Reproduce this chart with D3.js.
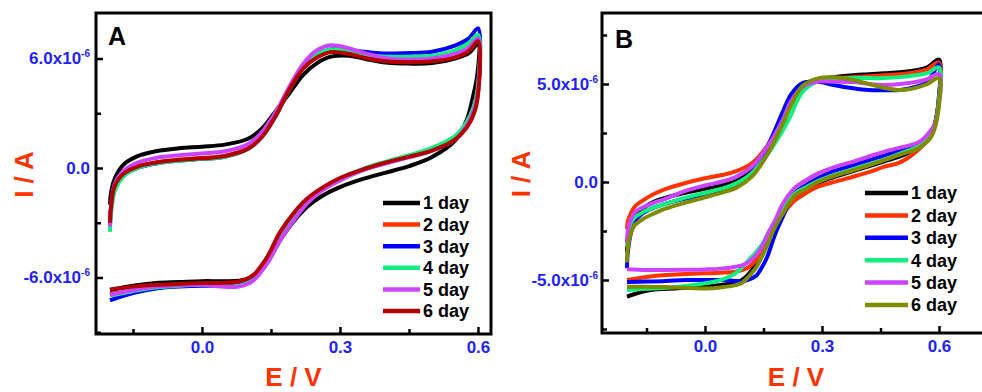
<!DOCTYPE html>
<html>
<head>
<meta charset="utf-8">
<script src="https://cdn.jsdelivr.net/npm/d3@7"></script>
<style>
  body { margin: 0; background: #fff; }
  svg { display: block; font-family: "Liberation Sans", Arial, sans-serif; font-weight: bold; }
</style>
</head>
<body>
<svg id="chart" width="982" height="392"></svg>
<script>
// currents are in units of 1e-6 A, potentials in V
const dayLabels = ["1 day", "2 day", "3 day", "4 day", "5 day", "6 day"];
const colorsA = ["#000000", "#ff3300", "#0000ff", "#11ee80", "#cc44ff", "#b30000"];
const colorsB = ["#000000", "#ff3300", "#0000ff", "#11ee80", "#cc44ff", "#7f8c00"];

const xMajor = [0, 0.3, 0.6];
const xMinor = [-0.15, 0.15, 0.45];
const yMajorA = [-6, 0, 6];
const yMinorA = [-9, -3, 3];
const yMajorB = [-5, 0, 5];
const yMinorB = [-7.5, -2.5, 2.5, 7.5];

// panel A: forward (upper) and reverse (lower) sweeps
const potFwdA = [-0.2, -0.198, -0.19, -0.17, -0.14, -0.1, -0.05, 0, 0.05, 0.1, 0.13, 0.16, 0.19, 0.22, 0.25, 0.28, 0.32, 0.36, 0.4, 0.45, 0.5, 0.55, 0.58, 0.6];
const potRevA = [0.599, 0.59, 0.575, 0.55, 0.5, 0.45, 0.4, 0.35, 0.3, 0.26, 0.23, 0.2, 0.17, 0.14, 0.11, 0.08, 0.04, 0, -0.05, -0.1, -0.15, -0.2];

const a1Fwd = [-2.0, -1.4, -0.6, 0.2, 0.65, 0.92, 1.08, 1.17, 1.28, 1.6, 2.15, 3.1, 4.1, 5.1, 5.75, 6.1, 6.15, 5.95, 5.78, 5.72, 5.75, 6.0, 6.3, 6.8];
const a1Rev = [5.2, 4.0, 2.6, 1.5, 0.6, 0.1, -0.25, -0.6, -1.05, -1.55, -2.1, -2.9, -3.95, -5.25, -6.0, -6.18, -6.2, -6.2, -6.25, -6.3, -6.45, -6.7];
const a2Fwd = [-3.1, -2.3, -1.1, -0.35, 0.05, 0.3, 0.45, 0.55, 0.68, 1.1, 1.75, 2.9, 4.3, 5.5, 6.15, 6.45, 6.35, 6.08, 5.92, 5.88, 5.92, 6.12, 6.5, 7.05];
const a2Rev = [3.9, 3.0, 2.3, 1.6, 1.0, 0.62, 0.3, -0.1, -0.6, -1.15, -1.75, -2.6, -3.6, -5.0, -5.95, -6.3, -6.38, -6.4, -6.45, -6.55, -6.7, -6.9];
const a3Fwd = [-3.2, -2.3, -1.1, -0.4, 0.0, 0.25, 0.4, 0.5, 0.62, 1.05, 1.7, 2.85, 4.3, 5.5, 6.2, 6.5, 6.45, 6.35, 6.28, 6.3, 6.37, 6.7, 7.1, 7.65];
const a3Rev = [4.2, 3.2, 2.4, 1.65, 1.05, 0.65, 0.3, -0.1, -0.62, -1.2, -1.8, -2.65, -3.65, -5.05, -6.05, -6.4, -6.45, -6.45, -6.5, -6.6, -6.85, -7.25];
const a4Fwd = [-3.5, -2.6, -1.3, -0.45, 0.0, 0.25, 0.4, 0.5, 0.62, 1.05, 1.7, 2.85, 4.3, 5.55, 6.25, 6.5, 6.4, 6.2, 6.1, 6.1, 6.15, 6.45, 6.85, 7.3];
const a4Rev = [4.3, 3.3, 2.5, 1.75, 1.1, 0.7, 0.35, -0.05, -0.6, -1.2, -1.85, -2.75, -3.85, -5.25, -6.15, -6.45, -6.45, -6.4, -6.45, -6.55, -6.75, -7.0];
const a5Fwd = [-3.2, -2.2, -0.9, -0.15, 0.3, 0.55, 0.7, 0.8, 0.92, 1.3, 1.95, 3.05, 4.45, 5.7, 6.45, 6.72, 6.55, 6.25, 6.02, 5.95, 6.0, 6.25, 6.6, 7.1];
const a5Rev = [4.0, 3.1, 2.3, 1.55, 0.95, 0.58, 0.25, -0.12, -0.68, -1.25, -1.9, -2.85, -3.95, -5.3, -6.2, -6.5, -6.5, -6.4, -6.42, -6.5, -6.7, -6.95];
const a6Fwd = [-3.0, -2.2, -1.0, -0.3, 0.08, 0.3, 0.45, 0.53, 0.65, 1.05, 1.7, 2.85, 4.3, 5.45, 6.05, 6.35, 6.25, 6.0, 5.85, 5.8, 5.85, 6.05, 6.4, 6.95];
const a6Rev = [3.8, 2.9, 2.2, 1.55, 0.95, 0.62, 0.3, -0.08, -0.55, -1.1, -1.65, -2.45, -3.5, -4.95, -5.9, -6.22, -6.3, -6.3, -6.35, -6.4, -6.5, -6.65];

// panel B
const potFwdB = [-0.2, -0.198, -0.19, -0.18, -0.16, -0.13, -0.1, -0.05, 0, 0.05, 0.08, 0.12, 0.16, 0.2, 0.22, 0.25, 0.29, 0.33, 0.38, 0.42, 0.46, 0.5, 0.54, 0.57, 0.6];
const potRevB = [0.599, 0.59, 0.58, 0.55, 0.5, 0.46, 0.42, 0.38, 0.33, 0.29, 0.26, 0.23, 0.2, 0.18, 0.16, 0.146, 0.13, 0.112, 0.095, 0.078, 0.04, 0, -0.05, -0.1, -0.15, -0.2];

const b1Fwd = [-3.6, -3.0, -2.2, -1.75, -1.35, -1.0, -0.8, -0.55, -0.35, -0.12, 0.05, 0.6, 1.65, 3.1, 4.0, 4.85, 5.2, 5.35, 5.45, 5.5, 5.55, 5.6, 5.7, 5.85, 6.25];
const b1Rev = [4.2, 3.0, 2.45, 1.8, 1.3, 1.05, 0.8, 0.55, 0.25, -0.05, -0.4, -0.85, -1.6, -2.3, -3.1, -3.6, -4.2, -4.7, -5.0, -5.15, -5.25, -5.34, -5.4, -5.45, -5.55, -5.85];
const b2Fwd = [-2.4, -2.0, -1.6, -1.25, -0.95, -0.6, -0.35, -0.05, 0.19, 0.38, 0.55, 0.95, 1.85, 3.3, 4.15, 4.95, 5.25, 5.3, 5.35, 5.4, 5.45, 5.5, 5.6, 5.75, 6.1];
const b2Rev = [4.0, 2.95, 2.4, 1.7, 1.0, 0.78, 0.5, 0.27, 0.0, -0.24, -0.55, -0.95, -1.65, -2.3, -3.0, -3.55, -4.0, -4.35, -4.5, -4.58, -4.63, -4.66, -4.7, -4.75, -4.85, -5.0];
const b3Fwd = [-4.4, -3.6, -2.6, -2.0, -1.6, -1.3, -1.1, -0.85, -0.65, -0.35, -0.1, 0.45, 1.8, 3.6, 4.45, 5.05, 5.12, 4.95, 4.78, 4.69, 4.68, 4.69, 4.85, 5.1, 6.0];
const b3Rev = [4.0, 3.0, 2.5, 1.95, 1.6, 1.35, 1.1, 0.85, 0.55, 0.2, -0.15, -0.55, -1.75, -2.65, -3.8, -4.35, -4.8, -4.98, -5.05, -5.05, -5.0, -5.0, -5.0, -5.05, -5.08, -5.1];
const b4Fwd = [-3.3, -2.8, -2.1, -1.8, -1.55, -1.3, -1.1, -0.8, -0.55, -0.3, -0.07, 0.45, 1.4, 2.65, 3.4, 4.6, 5.15, 5.25, 5.3, 5.3, 5.3, 5.35, 5.45, 5.55, 5.85];
const b4Rev = [4.0, 2.9, 2.4, 1.85, 1.45, 1.15, 0.9, 0.65, 0.35, 0.05, -0.25, -0.6, -1.3, -2.0, -2.7, -3.2, -3.6, -3.98, -4.35, -4.66, -5.0, -5.17, -5.3, -5.4, -5.45, -5.51];
const b5Fwd = [-3.1, -2.5, -1.9, -1.55, -1.3, -1.05, -0.85, -0.45, -0.18, 0.05, 0.27, 0.78, 1.8, 3.2, 4.1, 4.85, 5.12, 5.12, 5.1, 5.0, 4.95, 5.0, 5.1, 5.25, 5.5];
const b5Rev = [3.8, 3.0, 2.65, 2.05, 1.75, 1.55, 1.3, 1.04, 0.75, 0.44, 0.1, -0.3, -1.1, -1.94, -2.7, -3.3, -3.75, -4.07, -4.25, -4.32, -4.42, -4.46, -4.48, -4.49, -4.49, -4.45];
const b6Fwd = [-4.1, -3.4, -2.6, -2.2, -1.9, -1.6, -1.35, -1.05, -0.78, -0.5, -0.3, 0.27, 1.4, 3.0, 3.9, 4.9, 5.29, 5.34, 5.2, 5.0, 4.8, 4.69, 4.8, 5.0, 5.3];
const b6Rev = [3.8, 2.8, 2.3, 1.75, 1.4, 1.12, 0.85, 0.6, 0.3, 0.0, -0.35, -0.7, -1.6, -2.28, -3.2, -3.81, -4.4, -4.83, -5.15, -5.26, -5.38, -5.43, -5.4, -5.36, -5.35, -5.34];

const tickBlue = "#1f1fff";
const titleRed = "#ff3300";

function buildSeries(colors, potFwd, potRev, fwd, rev) {
  return dayLabels.map((label, i) => ({
    label,
    color: colors[i],
    points: potFwd.map((e, j) => [e, fwd[i][j]]).concat(potRev.map((e, j) => [e, rev[i][j]])),
  }));
}

function drawPanel(p) {
  const svg = d3.select("#chart");
  const x = d3.scaleLinear().domain(p.xDomain).range([p.left, p.right]);
  const y = d3.scaleLinear().domain(p.yDomain).range([p.bottom, p.top]);
  const g = svg.append("g");

  const line = d3
    .line()
    .x((d) => x(d[0]))
    .y((d) => y(d[1]))
    .curve(d3.curveCatmullRom.alpha(0.5));

  g.append("g")
    .selectAll("path")
    .data(p.series)
    .join("path")
    .attr("fill", "none")
    .attr("stroke", (d) => d.color)
    .attr("stroke-width", 4)
    .attr("stroke-linejoin", "round")
    .attr("d", (d) => line(d.points));

  // x axis, ticks pointing inward
  const gx = g.append("g").attr("transform", `translate(0,${p.bottom})`);
  gx.append("g").call(d3.axisBottom(x).tickValues(xMinor).tickSize(-5).tickFormat(() => ""));
  gx.append("g").call(
    d3.axisBottom(x).tickValues(xMajor).tickSize(-7).tickPadding(7).tickFormat((d) => d.toFixed(1))
  );

  // y axis with x10^-6 labels
  const gy = g.append("g").attr("transform", `translate(${p.left},0)`);
  gy.append("g").call(d3.axisLeft(y).tickValues(p.yMinor).tickSize(-5).tickFormat(() => ""));
  gy.append("g")
    .call(d3.axisLeft(y).tickValues(p.yMajor).tickSize(-7).tickPadding(p.yPad))
    .selectAll(".tick text")
    .each(function (d) {
      const t = d3.select(this).text(null);
      if (d === 0) {
        t.text("0.0");
        return;
      }
      t.append("tspan").text(d.toFixed(1) + "x10");
      t.append("tspan").attr("dy", -7).attr("font-size", 10).text("-6");
    });

  g.selectAll(".domain").remove();
  g.selectAll(".tick line").attr("stroke", "#000").attr("stroke-width", 2.5);
  g.selectAll(".tick text")
    .attr("fill", tickBlue)
    .attr("font-size", 17)
    .attr("font-family", null);
  g.selectAll("g").attr("font-family", null).attr("font-size", null);

  g.append("rect")
    .attr("x", p.left)
    .attr("y", p.top)
    .attr("width", p.right - p.left)
    .attr("height", p.bottom - p.top)
    .attr("fill", "none")
    .attr("stroke", "#000")
    .attr("stroke-width", 3);

  g.append("text")
    .attr("x", p.letterX)
    .attr("y", p.letterY)
    .attr("font-size", 25)
    .text(p.letter);

  g.append("text")
    .attr("transform", `translate(${p.yTitleX},${(p.top + p.bottom) / 2 + 1}) rotate(-90)`)
    .attr("text-anchor", "middle")
    .attr("fill", titleRed)
    .attr("font-size", 26)
    .text("I / A");

  g.append("text")
    .attr("x", (p.left + p.right) / 2)
    .attr("y", 386)
    .attr("text-anchor", "middle")
    .attr("fill", titleRed)
    .attr("font-size", 26)
    .text("E / V");

  const legend = g
    .append("g")
    .selectAll("g")
    .data(p.series)
    .join("g")
    .attr("transform", (d, i) => `translate(${p.legendX},${p.legendY + i * p.legendStep})`);
  legend
    .append("line")
    .attr("x2", p.legendLen)
    .attr("stroke", (d) => d.color)
    .attr("stroke-width", 4.5);
  legend
    .append("text")
    .attr("x", p.legendLen + 3)
    .attr("dy", "0.36em")
    .attr("font-size", 18)
    .text((d) => d.label);
}

drawPanel({
  letter: "A",
  left: 96, right: 491, top: 13, bottom: 334,
  xDomain: [-0.2304, 0.6283],
  yDomain: [-9.096, 8.493],
  yMajor: yMajorA, yMinor: yMinorA, yPad: 6,
  letterX: 108, letterY: 45,
  yTitleX: 33,
  legendX: 383, legendY: 203, legendStep: 21.6, legendLen: 37,
  series: buildSeries(colorsA, potFwdA, potRevA,
    [a1Fwd, a2Fwd, a3Fwd, a4Fwd, a5Fwd, a6Fwd],
    [a1Rev, a2Rev, a3Rev, a4Rev, a5Rev, a6Rev]),
});

drawPanel({
  letter: "B",
  left: 602, right: 990, top: 13, bottom: 333,
  xDomain: [-0.2641, 0.7308],
  yDomain: [-7.704, 8.622],
  yMajor: yMajorB, yMinor: yMinorB, yPad: 4,
  letterX: 615, letterY: 48,
  yTitleX: 530,
  legendX: 865, legendY: 193, legendStep: 22.4, legendLen: 43,
  series: buildSeries(colorsB, potFwdB, potRevB,
    [b1Fwd, b2Fwd, b3Fwd, b4Fwd, b5Fwd, b6Fwd],
    [b1Rev, b2Rev, b3Rev, b4Rev, b5Rev, b6Rev]),
});
</script>
</body>
</html>
